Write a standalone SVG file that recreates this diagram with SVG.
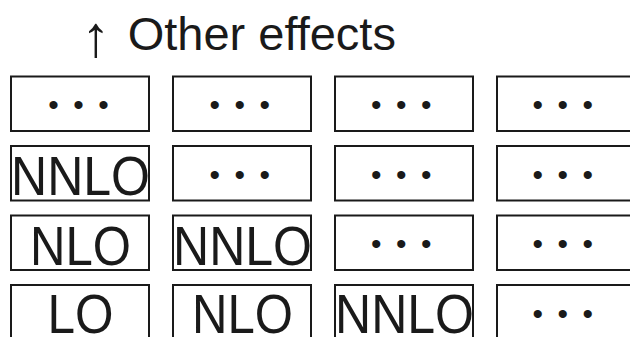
<svg xmlns="http://www.w3.org/2000/svg" width="630" height="337" viewBox="0 0 630 337">
  <style>
    .box { fill: #ffffff; stroke: #1a1a1a; stroke-width: 2; }
    .lbl { font-family: "Liberation Sans", Arial, sans-serif; font-size: 56px; fill: #1a1a1a; text-anchor: middle; }
    .dots { font-family: "Liberation Sans", Arial, sans-serif; font-size: 30px; letter-spacing: 14.5px; fill: #1a1a1a; text-anchor: middle; }
    .title { font-family: "Liberation Sans", Arial, sans-serif; font-size: 47px; fill: #1a1a1a; }
    .arrow { font-family: "Liberation Sans", Arial, sans-serif; font-size: 58px; fill: #1a1a1a; text-anchor: middle; }
  </style>
  <rect width="630" height="337" fill="#ffffff"/>

  <!-- heading -->
  <g id="heading">
    <text class="arrow" x="96" y="56">↑</text>
    <text class="title" x="127.7" y="49.5">Other effects</text>
  </g>

  <!-- grid of order cells: columns at x = 10, 172, 334, 496; rows at y = 75.5, 145, 214.5, 284 -->
  <g id="r1c1"><rect class="box" x="11" y="76.5" width="138" height="54.5"/><text class="dots" x="85.8" y="115">•••</text></g>
  <g id="r1c2"><rect class="box" x="173" y="76.5" width="138" height="54.5"/><text class="dots" x="247" y="115">•••</text></g>
  <g id="r1c3"><rect class="box" x="335" y="76.5" width="138" height="54.5"/><text class="dots" x="408.5" y="115">•••</text></g>
  <g id="r1c4"><rect class="box" x="497" y="76.5" width="138" height="54.5"/><text class="dots" x="570" y="115">•••</text></g>

  <g id="r2c1"><rect class="box" x="11" y="146" width="138" height="54.5"/><text class="lbl" x="80.5" y="195" textLength="139" lengthAdjust="spacingAndGlyphs">NNLO</text></g>
  <g id="r2c2"><rect class="box" x="173" y="146" width="138" height="54.5"/><text class="dots" x="247" y="184.5">•••</text></g>
  <g id="r2c3"><rect class="box" x="335" y="146" width="138" height="54.5"/><text class="dots" x="408.5" y="184.5">•••</text></g>
  <g id="r2c4"><rect class="box" x="497" y="146" width="138" height="54.5"/><text class="dots" x="570" y="184.5">•••</text></g>

  <g id="r3c1"><rect class="box" x="11" y="215.5" width="138" height="54.5"/><text class="lbl" x="80.5" y="265" textLength="101" lengthAdjust="spacingAndGlyphs">NLO</text></g>
  <g id="r3c2"><rect class="box" x="173" y="215.5" width="138" height="54.5"/><text class="lbl" x="242.5" y="265" textLength="139" lengthAdjust="spacingAndGlyphs">NNLO</text></g>
  <g id="r3c3"><rect class="box" x="335" y="215.5" width="138" height="54.5"/><text class="dots" x="408.5" y="254">•••</text></g>
  <g id="r3c4"><rect class="box" x="497" y="215.5" width="138" height="54.5"/><text class="dots" x="570" y="254">•••</text></g>

  <g id="r4c1"><rect class="box" x="11" y="285" width="138" height="54.5"/><text class="lbl" x="80.5" y="333" textLength="66" lengthAdjust="spacingAndGlyphs">LO</text></g>
  <g id="r4c2"><rect class="box" x="173" y="285" width="138" height="54.5"/><text class="lbl" x="242.5" y="333" textLength="101" lengthAdjust="spacingAndGlyphs">NLO</text></g>
  <g id="r4c3"><rect class="box" x="335" y="285" width="138" height="54.5"/><text class="lbl" x="404.5" y="333" textLength="139" lengthAdjust="spacingAndGlyphs">NNLO</text></g>
  <g id="r4c4"><rect class="box" x="497" y="285" width="138" height="54.5"/><text class="dots" x="570" y="323.5">•••</text></g>

  <!-- no connectors in this figure -->
  <g id="connectors"/>
</svg>
